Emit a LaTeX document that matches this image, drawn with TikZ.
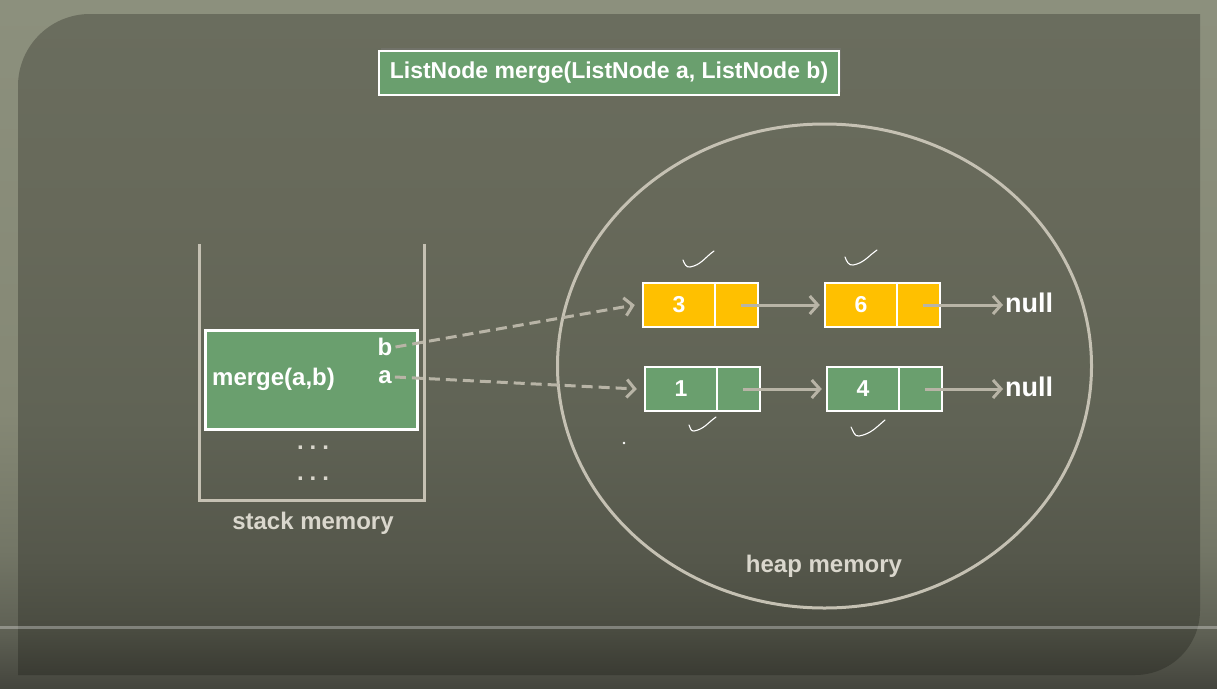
\documentclass[tikz,border=0pt]{standalone}
\usepackage{fontspec}
\setmainfont{Liberation Sans}
\usetikzlibrary{arrows.meta,shadows}
\definecolor{boxgreen}{HTML}{6A9F6E}
\definecolor{boxyellow}{HTML}{FFC000}
\definecolor{arrowgray}{HTML}{B8B4A6}
\definecolor{linegray}{HTML}{C5C1B3}
\definecolor{labelgray}{HTML}{DAD7CD}
\definecolor{pa1}{HTML}{3A3B33}
\definecolor{pa2}{HTML}{4A4C41}
\definecolor{pa3}{HTML}{55574B}
\definecolor{pa4}{HTML}{606355}
\definecolor{pa5}{HTML}{67695A}
\definecolor{pa6}{HTML}{6A6D5E}
\pgfdeclareverticalshading{panelshade}{100bp}{
  color(0bp)=(pa1);
  color(25bp)=(pa1);
  color(28.4bp)=(pa2);
  color(33.7bp)=(pa3);
  color(44.3bp)=(pa4);
  color(60bp)=(pa5);
  color(75bp)=(pa6);
  color(100bp)=(pa6)}
\definecolor{fr1}{HTML}{44453D}
\definecolor{fr2}{HTML}{5E6054}
\definecolor{fr3}{HTML}{737666}
\definecolor{fr4}{HTML}{858875}
\definecolor{fr5}{HTML}{8C907D}
\pgfdeclareverticalshading{frameshade}{100bp}{
  color(0bp)=(fr1);
  color(25bp)=(fr1);
  color(29bp)=(fr2);
  color(35bp)=(fr3);
  color(45bp)=(fr4);
  color(75bp)=(fr5);
  color(100bp)=(fr5)}
\tikzset{
  cellbox/.style={draw=white, line width=2.5pt, minimum height=44pt, inner sep=0pt,
    text=white, font=\bfseries\fontsize{23}{23}\selectfont},
  datacell/.style={cellbox, minimum width=72pt},
  ptrcell/.style={cellbox, minimum width=43pt},
  link/.style={draw=arrowgray, line width=3pt, -{Straight Barb[length=8pt,width=18pt,line width=3pt]}},
  reflink/.style={link, dash pattern=on 11pt off 6pt},
  whitetext/.style={text=white, font=\bfseries\fontsize{24}{24}\selectfont, inner sep=0pt},
  nulltext/.style={text=white, font=\bfseries\fontsize{27}{27}\selectfont, inner sep=0pt},
  memlabel/.style={text=labelgray, font=\bfseries\fontsize{24}{24}\selectfont, inner sep=0pt},
  dotrow/.style={text=labelgray, font=\bfseries\fontsize{24}{24}\selectfont, inner sep=0pt},
  tick/.style={draw=white, line width=1.1pt, line cap=round},
  wall/.style={draw=linegray, line width=3pt},
}
\begin{document}
\begin{tikzpicture}[x=1pt,y=-1pt]
\useasboundingbox (0,0) rectangle (1217,688);
% background frame
\shade[shading=frameshade] (0,0) rectangle (1217,688);
% panel
\shade[shading=panelshade]
  (18,675) -- (18,86) .. controls (18,46.2) and (50.2,14) .. (90,14) -- (1200,14) -- (1200,610)
  .. controls (1200,646) and (1171,675) .. (1135,675) -- cycle;
\draw[white, opacity=0.3, line width=3pt] (0,627) -- (1217,627);

% title
\node[fill=boxgreen, draw=white, line width=2.5pt, minimum width=460pt, minimum height=44pt,
  inner sep=0pt, drop shadow={opacity=0.35, shadow xshift=2pt, shadow yshift=3pt},
  text=white, font=\bfseries\fontsize{23}{23}\selectfont] (title) at (609,73) {ListNode merge(ListNode a, ListNode b)};

% stack memory
\draw[wall] (199,244) -- (199,500) -- (424,500) -- (424,244);
\node[fill=boxgreen, draw=white, line width=2.5pt, minimum width=212pt, minimum height=99pt, inner sep=0pt] (frame) at (311.5,380) {};
\node[whitetext, anchor=west] (mergelbl) at (212,379) {merge(a,b)};
\node[whitetext] (bvar) at (385,347) {b};
\node[whitetext] (avar) at (385,377) {a};
\node[dotrow] (dots1) at (313,448) {.\hspace{6pt}.\hspace{6pt}.};
\node[dotrow] (dots2) at (313,479) {.\hspace{6pt}.\hspace{6pt}.};
\node[memlabel] (stacklbl) at (313,523) {stack memory};

% heap memory
\draw[draw=linegray, line width=3pt] (824.5,366) ellipse [x radius=267, y radius=242];
\node[memlabel] (heaplbl) at (824,566) {heap memory};

% list b: 3 -> 6 -> null
\node[datacell, fill=boxyellow] (n3) at (679,305) {3};
\node[ptrcell, fill=boxyellow] (n3p) at (736.5,305) {};
\node[datacell, fill=boxyellow] (n6) at (861,305) {6};
\node[ptrcell, fill=boxyellow] (n6p) at (918.5,305) {};
\node[nulltext, anchor=west] (null1) at (1005,303) {null};

% list a: 1 -> 4 -> null
\node[datacell, fill=boxgreen] (n1) at (681,389) {1};
\node[ptrcell, fill=boxgreen] (n1p) at (738.5,389) {};
\node[datacell, fill=boxgreen] (n4) at (863,389) {4};
\node[ptrcell, fill=boxgreen] (n4p) at (920.5,389) {};
\node[nulltext, anchor=west] (null2) at (1005,387) {null};

% links
\draw[link] ([xshift=4pt]n3p.center) -- ([xshift=-4pt]n6.west);
\draw[link] ([xshift=4pt]n6p.center) -- ([xshift=-2pt]null1.west |- n6p.center);
\draw[link] ([xshift=4pt]n1p.center) -- ([xshift=-4pt]n4.west);
\draw[link] ([xshift=4pt]n4p.center) -- ([xshift=-2pt]null2.west |- n4p.center);

\draw[reflink] ([xshift=3pt]bvar.east) -- ([xshift=-7pt]n3.west);
\draw[reflink] ([xshift=3pt]avar.east) -- ([xshift=-7pt]n1.west);

% hand-drawn ticks
\draw[tick] (683,260) to[out=-70,in=190] (690,267) to[out=10,in=-145] (714,251);
\draw[tick] (845,257) to[out=-70,in=190] (853,265) to[out=10,in=-145] (877,250);
\draw[tick] (689,425) to[out=-70,in=190] (694,431) to[out=10,in=-145] (716,417);
\draw[tick] (851,427) to[out=-60,in=190] (859,436) to[out=10,in=-140] (885,420);
\fill[white] (624,443) circle (1.3pt);
\end{tikzpicture}
\end{document}
